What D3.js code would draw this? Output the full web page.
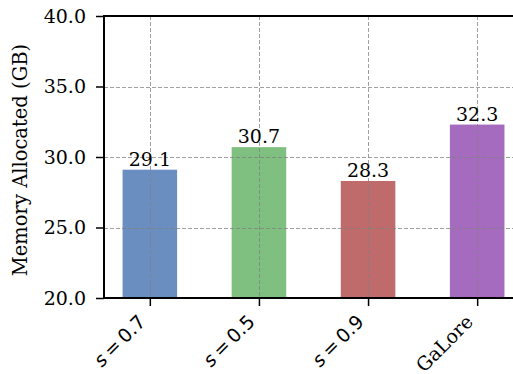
<!DOCTYPE html>
<html>
<head>
<meta charset="utf-8">
<script src="https://cdn.jsdelivr.net/npm/d3@7"></script>
<style>
  html, body { margin: 0; padding: 0; background: #fff; }
  svg { display: block; }
  text { fill: #000; }
</style>
</head>
<body>
<svg id="chart" width="513" height="374"></svg>
<script>
// Memory allocated per method (GB)
const categories = ["s = 0.7", "s = 0.5", "s = 0.9", "GaLore"];
const memoryGB = [29.1, 30.7, 28.3, 32.3];
const barColors = ["#6a8ebf", "#7fbf7f", "#bf6b6b", "#a46bbf"];
const yTicks = [20.0, 25.0, 30.0, 35.0, 40.0];

const svg = d3.select("#chart");
const plotLeft = 104, plotTop = 16, plotBottom = 298, plotRight = 523;

const x = d3.scaleLinear().domain([-0.42, 3.42]).range([plotLeft, plotRight]);
const y = d3.scaleLinear().domain([20, 40]).range([plotBottom, plotTop]);
const barWidth = 0.5;

const serif = "'DejaVu Serif', serif";
const sans = "'DejaVu Sans', sans-serif";
const fontSize = 19;

// Bars
svg.append("g").selectAll("rect")
  .data(memoryGB)
  .join("rect")
  .attr("x", (d, i) => x(i - barWidth / 2))
  .attr("width", (d, i) => x(i + barWidth / 2) - x(i - barWidth / 2))
  .attr("y", d => y(d))
  .attr("height", d => y(20) - y(d))
  .attr("fill", (d, i) => barColors[i]);

// Dashed grid on top of the bars
const grid = svg.append("g")
  .attr("stroke", "#808080")
  .attr("stroke-opacity", 0.75)
  .attr("stroke-width", 1)
  .attr("stroke-dasharray", "4,2");
grid.selectAll("line.h")
  .data(yTicks.filter(t => t > 20 && t < 40))
  .join("line")
  .attr("class", "h")
  .attr("x1", plotLeft).attr("x2", plotRight)
  .attr("y1", d => Math.round(y(d)) + 0.5)
  .attr("y2", d => Math.round(y(d)) + 0.5);
grid.selectAll("line.v")
  .data(categories.map((c, i) => i))
  .join("line")
  .attr("class", "v")
  .attr("x1", d => Math.round(x(d)) + 0.5)
  .attr("x2", d => Math.round(x(d)) + 0.5)
  .attr("y1", plotTop).attr("y2", plotBottom);

// Y axis
const yAxis = d3.axisLeft(y)
  .tickValues(yTicks)
  .tickFormat(d3.format(".1f"))
  .tickSize(8)
  .tickPadding(10);
const yg = svg.append("g").attr("transform", `translate(${plotLeft},0)`).call(yAxis);
yg.select(".domain").remove();
yg.selectAll(".tick line").attr("stroke", "#000").attr("stroke-width", 1.5);
yg.selectAll(".tick text")
  .attr("font-family", serif)
  .attr("font-size", fontSize)
  .attr("fill", "#000");

// X axis
const xAxis = d3.axisBottom(x)
  .tickValues(categories.map((c, i) => i))
  .tickFormat(i => categories[i])
  .tickSize(8);
const xg = svg.append("g").attr("transform", `translate(0,${plotBottom})`).call(xAxis);
xg.select(".domain").remove();
xg.selectAll(".tick line").attr("stroke", "#000").attr("stroke-width", 1.5);
xg.selectAll(".tick text").remove();

// Rotated category labels
const xLabels = svg.append("g").selectAll("text")
  .data(categories)
  .join("text")
  .attr("text-anchor", "end")
  .attr("font-size", fontSize)
  .attr("transform", (d, i) => `translate(${x(i) - 3},${plotBottom + 25}) rotate(-45)`);
xLabels.each(function(d) {
  const t = d3.select(this);
  const m = d.match(/^s = (.*)$/);
  if (m) {
    t.attr("font-family", sans);
    t.append("tspan").attr("font-style", "italic").text("s");
    t.append("tspan").text("\u2009=\u2009" + m[1]);
  } else {
    t.attr("font-family", serif).text(d);
  }
});

// Spines
svg.append("line")
  .attr("x1", plotLeft).attr("x2", plotLeft).attr("y1", plotTop - 1).attr("y2", plotBottom + 1)
  .attr("stroke", "#000").attr("stroke-width", 2);
svg.append("line")
  .attr("x1", plotLeft - 1).attr("x2", plotRight).attr("y1", plotTop).attr("y2", plotTop)
  .attr("stroke", "#000").attr("stroke-width", 2);
svg.append("line")
  .attr("x1", plotLeft - 1).attr("x2", plotRight).attr("y1", plotBottom).attr("y2", plotBottom)
  .attr("stroke", "#000").attr("stroke-width", 2);

// Value labels above bars
svg.append("g").selectAll("text")
  .data(memoryGB)
  .join("text")
  .attr("x", (d, i) => x(i))
  .attr("y", d => y(d) - 4)
  .attr("text-anchor", "middle")
  .attr("font-family", serif)
  .attr("font-size", fontSize)
  .text(d => d.toFixed(1));

// Y axis title
svg.append("text")
  .attr("transform", `translate(27,${(plotTop + plotBottom) / 2 + 3}) rotate(-90)`)
  .attr("text-anchor", "middle")
  .attr("font-family", serif)
  .attr("font-size", 19.5)
  .text("Memory Allocated (GB)");
</script>
</body>
</html>
